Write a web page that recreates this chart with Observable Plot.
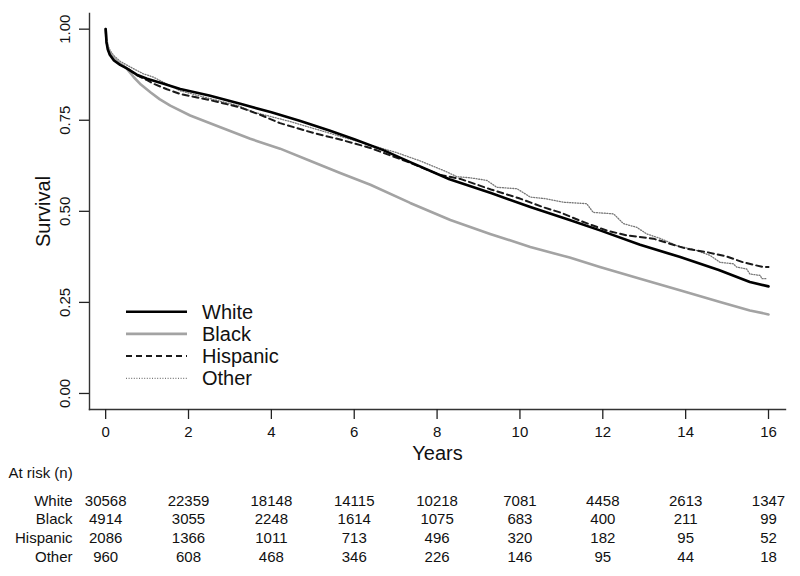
<!DOCTYPE html>
<html><head><meta charset="utf-8">
<script src="https://cdn.jsdelivr.net/npm/d3@7"></script>
<script src="https://cdn.jsdelivr.net/npm/@observablehq/plot@0.6"></script>
<style>body{margin:0;background:#fff} svg{display:block}</style>
</head><body><div id="chart"></div>
<script>
const groups = ["White", "Black", "Hispanic", "Other"];

const whiteT = [0, 0.02, 0.05, 0.1, 0.2, 0.35, 0.5, 0.75, 1.0, 1.4, 1.8, 2.5, 3.25, 4.0, 4.7, 5.4, 6.0, 6.7, 7.35, 8.3, 9.3, 10.25, 11.2, 11.95, 12.9, 13.85, 14.8, 15.55, 16.0];
const whiteS = [1.0, 0.965, 0.945, 0.93, 0.914, 0.902, 0.893, 0.875, 0.864, 0.85, 0.836, 0.818, 0.795, 0.772, 0.748, 0.722, 0.698, 0.668, 0.635, 0.588, 0.55, 0.512, 0.476, 0.447, 0.408, 0.375, 0.339, 0.306, 0.294];

const blackT = [0, 0.02, 0.05, 0.1, 0.2, 0.35, 0.5, 0.68, 0.85, 1.08, 1.3, 1.56, 2.04, 2.77, 3.49, 4.21, 4.93, 5.66, 6.39, 7.35, 8.32, 9.28, 10.25, 11.2, 11.93, 12.9, 13.86, 14.83, 15.55, 16.0];
const blackS = [1.0, 0.97, 0.952, 0.937, 0.92, 0.906, 0.893, 0.868, 0.848, 0.827, 0.808, 0.79, 0.763, 0.731, 0.699, 0.672, 0.639, 0.605, 0.573, 0.523, 0.476, 0.438, 0.402, 0.373, 0.347, 0.315, 0.283, 0.251, 0.228, 0.217];

const hispT = [0, 0.02, 0.05, 0.1, 0.2, 0.35, 0.5, 0.75, 1.0, 1.16, 1.48, 1.8, 2.53, 3.25, 3.73, 4.21, 5.02, 5.66, 6.39, 7.35, 8.07, 8.56, 9.3, 10.0, 10.57, 10.97, 11.5, 12.1, 12.58, 13.22, 13.62, 14.03, 14.51, 14.99, 15.39, 15.87, 16.0];
const hispS = [1.0, 0.965, 0.947, 0.932, 0.916, 0.903, 0.894, 0.874, 0.86, 0.85, 0.835, 0.822, 0.805, 0.785, 0.765, 0.742, 0.715, 0.697, 0.674, 0.633, 0.6, 0.589, 0.56, 0.535, 0.511, 0.497, 0.472, 0.447, 0.434, 0.425, 0.411, 0.397, 0.388, 0.376, 0.36, 0.347, 0.347];

const otherT = [0, 0.02, 0.05, 0.1, 0.19, 0.35, 0.5, 0.68, 0.9, 1.16, 1.5, 1.8, 2.53, 3.2, 3.57, 3.89, 4.5, 5.0, 5.6, 6.2, 7.0, 7.6, 8.2, 8.48, 8.8, 9.2, 9.44, 9.93, 10.25, 10.6, 11.05, 11.61, 11.77, 12.26, 12.5, 12.82, 13.06, 13.4, 13.78, 14.2, 14.59, 14.83, 15.15, 15.23, 15.47, 15.55, 15.8, 15.84, 15.95];
const otherS = [1.0, 0.97, 0.955, 0.943, 0.928, 0.912, 0.902, 0.891, 0.878, 0.868, 0.848, 0.831, 0.809, 0.79, 0.772, 0.763, 0.745, 0.728, 0.708, 0.688, 0.662, 0.638, 0.61, 0.595, 0.592, 0.585, 0.566, 0.562, 0.539, 0.535, 0.525, 0.521, 0.497, 0.493, 0.466, 0.456, 0.438, 0.425, 0.406, 0.395, 0.379, 0.36, 0.356, 0.347, 0.342, 0.328, 0.324, 0.315, 0.315];

const riskYears = [0, 2, 4, 6, 8, 10, 12, 14, 16];
const riskWhite = [30568, 22359, 18148, 14115, 10218, 7081, 4458, 2613, 1347];
const riskBlack = [4914, 3055, 2248, 1614, 1075, 683, 400, 211, 99];
const riskHispanic = [2086, 1366, 1011, 713, 496, 320, 182, 95, 52];
const riskOther = [960, 608, 468, 346, 226, 146, 95, 44, 18];

const xTicks = [0, 2, 4, 6, 8, 10, 12, 14, 16];
const yTicks = [0, 0.25, 0.5, 0.75, 1];

const seriesData = {
  White: whiteT.map((t, i) => ({t, s: whiteS[i]})),
  Black: blackT.map((t, i) => ({t, s: blackS[i]})),
  Hispanic: hispT.map((t, i) => ({t, s: hispS[i]})),
  Other: otherT.map((t, i) => ({t, s: otherS[i]}))
};
const riskRows = {White: riskWhite, Black: riskBlack, Hispanic: riskHispanic, Other: riskOther};

const styles = {
  White: {stroke: "#000", strokeWidth: 2.6},
  Black: {stroke: "#a3a3a3", strokeWidth: 2.6},
  Hispanic: {stroke: "#1a1a1a", strokeWidth: 2, strokeDasharray: "6,4"},
  Other: {stroke: "#777", strokeWidth: 1.3, strokeDasharray: "1,1.6"}
};

const font = "'Liberation Sans', Arial, Helvetica, sans-serif";
const ink = "#111";

const marks = [
  Plot.frame({anchor: "left", stroke: "#333", strokeWidth: 1.4}),
  Plot.frame({anchor: "bottom", stroke: "#333", strokeWidth: 1.4}),
  Plot.axisX({ticks: xTicks, tickSize: 10, tickPadding: 7, label: null, fontSize: 15, strokeWidth: 1.3, fill: ink}),
  Plot.axisY({ticks: yTicks, tickSize: 10, tickFormat: () => "", label: null, strokeWidth: 1.3}),
  Plot.text(yTicks, {y: d => d, text: d => d3.format(".2f")(d), frameAnchor: "left", textAnchor: "middle", dx: -24, rotate: -90, fontSize: 15, fill: ink}),
  ...groups.slice().reverse().map(g => Plot.line(seriesData[g], {x: "t", y: "s", ...styles[g], strokeLinejoin: "round"})),
  Plot.text(["Years"], {frameAnchor: "bottom", dy: 50, fontSize: 20, fill: ink}),
  Plot.text(["Survival"], {frameAnchor: "left", textAnchor: "middle", dx: -46, rotate: -90, fontSize: 20, fill: ink}),
  Plot.text(["At risk (n)"], {frameAnchor: "bottom-left", dx: -81, dy: 68, textAnchor: "start", fontSize: 15, fill: ink})
];
groups.forEach((g, r) => {
  const dy = 96 + r * 18.7;
  marks.push(Plot.text([g], {frameAnchor: "bottom-left", dx: -17, dy, textAnchor: "end", fontSize: 15, fill: ink}));
  marks.push(Plot.text(riskYears, {x: d => d, text: (d, i) => String(riskRows[g][i]), frameAnchor: "bottom", dy, fontSize: 15, fill: ink}));
});

const chart = Plot.plot({
  width: 800,
  height: 576,
  marginTop: 13,
  marginBottom: 167,
  marginLeft: 89,
  marginRight: 15,
  style: {fontFamily: font, color: "#222", background: "#fff"},
  x: {domain: [-0.39, 16.41]},
  y: {domain: [-0.044, 1.043]},
  marks
});

// legend inside the plot area, lower left
const svg = d3.select(chart);
const leg = svg.append("g")
  .attr("font-family", font).attr("font-size", 20).attr("fill", ink)
  .attr("text-anchor", "start").style("text-anchor", "start");
groups.forEach((g, i) => {
  const y = 311.7 + i * 22.2;
  const st = styles[g];
  leg.append("line").attr("x1", 126).attr("x2", 187).attr("y1", y).attr("y2", y)
    .attr("stroke", st.stroke).attr("stroke-width", st.strokeWidth)
    .attr("stroke-dasharray", st.strokeDasharray || null);
  leg.append("text").attr("x", 202).attr("y", y).attr("dy", "0.35em").text(g);
});

document.getElementById("chart").appendChild(chart);
</script>
</body></html>
